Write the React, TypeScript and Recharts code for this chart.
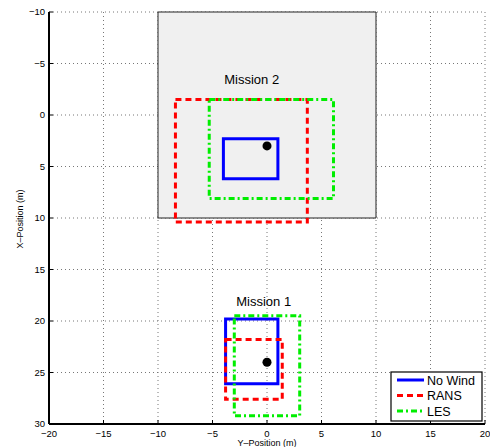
import React from "react";
import {
  ScatterChart,
  Scatter,
  XAxis,
  YAxis,
  CartesianGrid,
  ReferenceArea,
  ReferenceDot,
} from "recharts";

// Horizontal axis is the Y position, vertical axis the X position (m).
type Box = { y1: number; y2: number; x1: number; x2: number };

const yTicks = [-20, -15, -10, -5, 0, 5, 10, 15, 20];
const xTicks = [-10, -5, 0, 5, 10, 15, 20, 25, 30];

const missionArea: Box = { y1: -10, y2: 10, x1: -10, x2: 10 };

const noWindBoxes: Box[] = [
  { y1: -4, y2: 1, x1: 2.3, x2: 6.2 },
  { y1: -3.8, y2: 1, x1: 19.8, x2: 26.1 },
];
const ransBoxes: Box[] = [
  { y1: -8.4, y2: 3.7, x1: -1.5, x2: 10.4 },
  { y1: -3.8, y2: 1.4, x1: 21.8, x2: 27.6 },
];
const lesBoxes: Box[] = [
  { y1: -5.3, y2: 6.1, x1: -1.5, x2: 8.1 },
  { y1: -3.0, y2: 3.0, x1: 19.5, x2: 29.2 },
];

const targets = [
  { y: 0, x: 3 },
  { y: 0, x: 24 },
];

const missionLabels = [
  { name: "Mission 2", y: -1.4, x: -3.5 },
  { name: "Mission 1", y: -0.3, x: 18.1 },
];

const seriesNames = ["No Wind", "RANS", "LES"];

const FONT = "'Liberation Sans', Arial, Helvetica, sans-serif";

const styles: Record<string, { stroke: string; dash?: string }> = {
  "No Wind": { stroke: "#0000ff" },
  RANS: { stroke: "#ff0000", dash: "6 4" },
  LES: { stroke: "#00ee00", dash: "6 3 2 3" },
};

const boxesByName: Record<string, Box[]> = {
  "No Wind": noWindBoxes,
  RANS: ransBoxes,
  LES: lesBoxes,
};

const fmt = (v: number) => (v < 0 ? `\u2212${-v}` : `${v}`);

const tickStyle = { fill: "#000", fontSize: 9.5, fontFamily: FONT };

const Legend = () => (
  <svg
    width={93}
    height={51}
    style={{ position: "absolute", left: 390, top: 371 }}
  >
    <rect x={1} y={1} width={91} height={49} fill="#fff" stroke="#000" strokeWidth={1.2} />
    {seriesNames.map((name, i) => {
      const s = styles[name];
      const y = 9 + i * 15.5;
      return (
        <g key={name}>
          <line
            x1={7}
            x2={34}
            y1={y}
            y2={y}
            stroke={s.stroke}
            strokeWidth={3}
            strokeDasharray={s.dash}
          />
          <text x={37} y={y + 4.5} fontSize={12.5} fontFamily={FONT} fill="#000">
            {name}
          </text>
        </g>
      );
    })}
  </svg>
);

export default function App() {
  return (
    <div style={{ position: "absolute", left: 0, top: 0, width: 490, height: 447 }}>
      <ScatterChart
        width={490}
        height={447}
        margin={{ top: 12, right: 5, left: 0, bottom: 0 }}
      >
        <CartesianGrid stroke="#777" strokeDasharray="1 3" strokeWidth={1} />
        <XAxis
          type="number"
          dataKey="y"
          domain={[-20, 20]}
          ticks={yTicks}
          allowDataOverflow
          height={23}
          tickFormatter={fmt}
          tick={tickStyle}
          tickSize={-4}
          tickMargin={10}
          axisLine={{ stroke: "#000", strokeWidth: 2 }}
          tickLine={{ stroke: "#000" }}
          label={{
            content: ({ viewBox }: any) => (
              <text
                x={viewBox.x + viewBox.width / 2}
                y={viewBox.y + 21.5}
                textAnchor="middle"
                fontSize={9}
                fontFamily={FONT}
                fill="#000"
              >
                Y–Position (m)
              </text>
            ),
          }}
        />
        <XAxis
          xAxisId="top"
          orientation="top"
          type="number"
          dataKey="y"
          domain={[-20, 20]}
          ticks={yTicks}
          allowDataOverflow
          height={0}
          tick={false}
          tickSize={-4}
          axisLine={{ stroke: "#000", strokeWidth: 1 }}
          tickLine={{ stroke: "#000" }}
        />
        <YAxis
          type="number"
          dataKey="x"
          reversed
          domain={[-10, 30]}
          ticks={xTicks}
          allowDataOverflow
          width={49}
          tickFormatter={fmt}
          tick={tickStyle}
          tickSize={-4}
          tickMargin={8}
          axisLine={{ stroke: "#000", strokeWidth: 2 }}
          tickLine={{ stroke: "#000" }}
          label={{
            content: ({ viewBox }: any) => {
              const cx = 23;
              const cy = viewBox.y + viewBox.height / 2 + 1;
              return (
                <text
                  x={cx}
                  y={cy}
                  transform={`rotate(-90, ${cx}, ${cy})`}
                  textAnchor="middle"
                  fontSize={9}
                  fontFamily={FONT}
                  fill="#000"
                >
                  X–Position (m)
                </text>
              );
            },
          }}
        />
        <YAxis
          yAxisId="right"
          orientation="right"
          type="number"
          dataKey="x"
          reversed
          domain={[-10, 30]}
          ticks={xTicks}
          allowDataOverflow
          width={0}
          tick={false}
          tickSize={-4}
          axisLine={{ stroke: "#000", strokeWidth: 1 }}
          tickLine={{ stroke: "#000" }}
        />

        {/* mission area patch */}
        <ReferenceArea
          x1={missionArea.y1}
          x2={missionArea.y2}
          y1={missionArea.x1}
          y2={missionArea.x2}
          fill="#f0f0f0"
          fillOpacity={1}
          stroke="#222"
          strokeWidth={1}
        />

        {/* flight envelopes per wind model */}
        {seriesNames.map((name) =>
          boxesByName[name].map((b, i) => (
            <ReferenceArea
              key={`${name}-${i}`}
              x1={b.y1}
              x2={b.y2}
              y1={b.x1}
              y2={b.x2}
              fill="none"
              stroke={styles[name].stroke}
              strokeWidth={3}
              strokeDasharray={styles[name].dash}
              strokeOpacity={1}
            />
          ))
        )}

        {missionLabels.map((m) => (
          <ReferenceDot
            key={m.name}
            x={m.y}
            y={m.x}
            r={0}
            fill="none"
            stroke="none"
            label={{
              value: m.name,
              position: "center",
              fontSize: 13,
              fontFamily: FONT,
              fill: "#000",
            }}
          />
        ))}

        <Scatter data={targets} fill="#000" isAnimationActive={false} />
      </ScatterChart>
      <Legend />
    </div>
  );
}
